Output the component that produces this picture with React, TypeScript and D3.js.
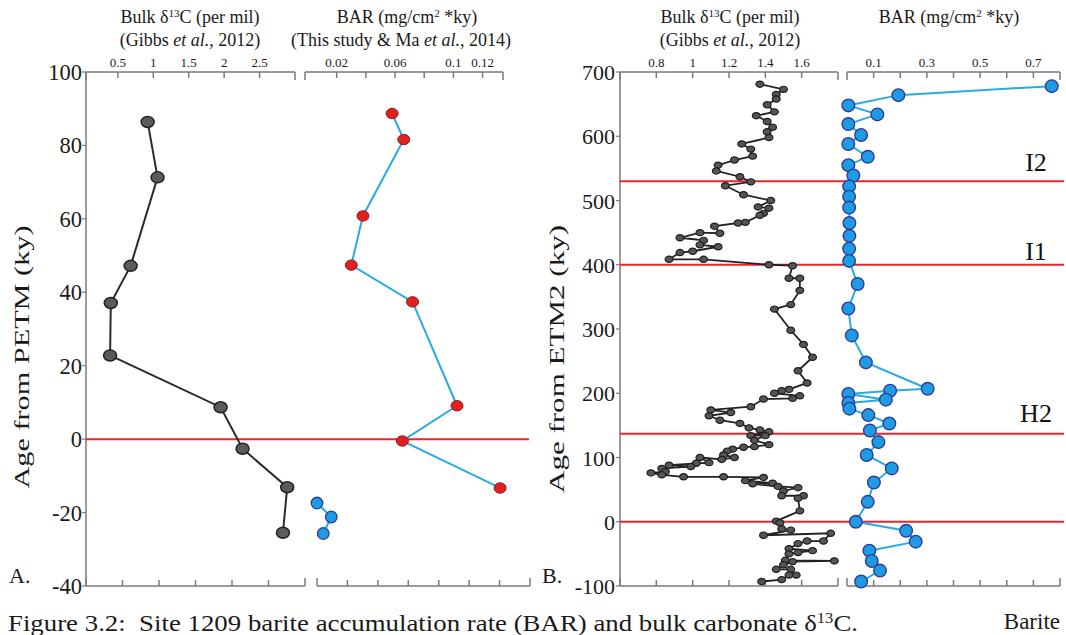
import React from 'react';
import * as d3 from 'd3';

// ---------- Panel A data ----------
const ageA_c13 = [86.4, 71.3, 47.2, 37.1, 22.8, 8.7, -2.6, -13.1, -25.5];
const c13A = [0.92, 1.06, 0.68, 0.40, 0.39, 1.95, 2.26, 2.89, 2.83];
const ageA_barRed = [88.7, 81.6, 60.8, 47.4, 37.4, 9.1, -0.5, -13.3];
const barA_red = [0.058, 0.066, 0.038, 0.030, 0.072, 0.1025, 0.065, 0.132];
const ageA_barBlue = [-17.4, -21.2, -25.7];
const barA_blue = [0.0065, 0.0163, 0.0108];

// ---------- Panel B data ----------
const ageB_c13 = [681, 673, 665, 658, 649, 638, 632, 623, 614, 607, 598, 588, 580, 569, 563, 555, 546, 537, 529, 523,
  509, 500, 490, 488, 480, 477, 466, 465, 460, 449, 450, 442, 438, 431, 428, 421, 419, 408.5, 408.5, 400, 398.5,
  379, 379, 360, 338, 331, 298, 276, 256, 235, 216, 206, 204, 200, 196, 192, 191, 179, 174, 170, 165, 158, 153,
  146, 143, 140, 134, 134, 127, 120, 117, 116, 113, 110, 104, 100, 97, 100, 92, 91, 88, 86, 83, 78, 76, 73, 70,
  70, 69, 64, 60, 59, 55, 53, 48, 40.5, 40.5, 36.5, 17, 1, -1.5, -11, -13, -21, -18, -30, -30, -34, -42, -45, -48,
  -50, -60, -61, -62, -67, -74, -74, -83, -83, -90, -93];
const c13B = [1.37, 1.50, 1.46, 1.46, 1.41, 1.45, 1.35, 1.41, 1.44, 1.41, 1.42, 1.27, 1.32, 1.33, 1.23, 1.14, 1.13, 1.26, 1.32, 1.18,
  1.28, 1.43, 1.36, 1.42, 1.39, 1.37, 1.29, 1.25, 1.12, 1.15, 1.04, 0.93, 1.06, 1.04, 1.14, 1.00, 0.93, 0.87, 1.06, 1.42, 1.55,
  1.53, 1.59, 1.59, 1.54, 1.45, 1.54, 1.61, 1.66, 1.58, 1.63, 1.53, 1.49, 1.45, 1.59, 1.55, 1.39, 1.32, 1.10, 1.21, 1.09, 1.15, 1.26,
  1.31, 1.37, 1.42, 1.32, 1.40, 1.34, 1.42, 1.34, 1.28, 1.22, 1.19, 1.17, 1.23, 1.16, 1.04, 1.09, 1.02, 0.87, 0.99, 0.83, 0.85, 0.77, 0.83, 0.95,
  1.17, 1.39, 1.29, 1.44, 1.33, 1.47, 1.58, 1.50, 1.49, 1.61, 1.58, 1.59, 1.46, 1.48, 1.49, 1.54, 1.39, 1.76, 1.72, 1.63, 1.58, 1.53, 1.66, 1.58,
  1.53, 1.51, 1.78, 1.55, 1.50, 1.46, 1.54, 1.57, 1.53, 1.49, 1.38];

const ageB_bar = [678, 664, 648, 634, 619, 602, 588, 568, 555, 539, 522, 506, 489, 465, 445, 425, 406, 370, 332,
  290, 248, 207, 204, 199, 190, 185, 176, 166, 153, 142, 124, 104, 83, 61, 31, 0, -14, -31, -45, -61, -76, -93];
const barB = [0.769, 0.193, 0.005, 0.114, 0.005, 0.053, 0.005, 0.078, 0.005, 0.024, 0.008, 0.008, 0.008, 0.009, 0.009, 0.008, 0.008, 0.04, 0.005,
  0.018, 0.071, 0.303, 0.162, 0.005, 0.146, 0.005, 0.009, 0.08, 0.159, 0.086, 0.118, 0.074, 0.168, 0.101, 0.078, 0.033, 0.222, 0.258, 0.084, 0.093, 0.124, 0.053];

// tick labels
const yTicksA = [100, 80, 60, 40, 20, 0, -20, -40];
const yTicksB = [700, 600, 500, 400, 300, 200, 100, 0, -100];
const c13TicksA = [0.5, 1, 1.5, 2, 2.5];
const c13TickLabelsA = ['0.5', '1', '1.5', '2', '2.5'];
const barTicksA = [0.02, 0.04, 0.06, 0.08, 0.10, 0.12];
const barLabelsA = [[0.02, '0.02'], [0.06, '0.06'], [0.1, '0.1'], [0.12, '0.12']] as [number, string][];
const c13TicksB = [0.8, 1.0, 1.2, 1.4, 1.6];
const c13LabelsB = ['0.8', '1', '1.2', '1.4', '1.6'];
const barTicksB = [0.1, 0.2, 0.3, 0.4, 0.5, 0.6, 0.7];
const barLabelsB = [[0.1, '0.1'], [0.3, '0.3'], [0.5, '0.5'], [0.7, '0.7']] as [number, string][];
const eventLinesB = [530, 400, 137, 0];
const eventLabelsB = [[560, 'I2'], [422, 'I1'], [170, 'H2']] as [number, string][];

const AX = '#7a7a7a';
const TXT = '#1a1a1a';
const RED = '#e8262d';
const FONT = '"Liberation Serif", "Times New Roman", serif';

function TopAxis({ scale, x0, x1, y, ticks, len = 6 }: any) {
  return (
    <g stroke={AX} strokeWidth={1.5} fill="none">
      <line x1={x0} x2={x1} y1={y} y2={y} />
      <line x1={x0} x2={x0} y1={y} y2={y + len + 2} />
      <line x1={x1} x2={x1} y1={y} y2={y + len + 2} />
      {ticks.map((t: number, i: number) => (
        <line key={i} x1={scale(t)} x2={scale(t)} y1={y} y2={y + len} />
      ))}
    </g>
  );
}
function BottomAxis({ scale, x0, x1, y, ticks, len = 6 }: any) {
  return (
    <g stroke={AX} strokeWidth={1.5} fill="none">
      <line x1={x0} x2={x1} y1={y} y2={y} />
      <line x1={x0} x2={x0} y1={y} y2={y - len - 2} />
      <line x1={x1} x2={x1} y1={y} y2={y - len - 2} />
      {ticks.map((t: number, i: number) => (
        <line key={i} x1={scale(t)} x2={scale(t)} y1={y} y2={y - len} />
      ))}
    </g>
  );
}

export default function App() {
  const top = 72, bot = 586;
  const yA = d3.scaleLinear().domain([-40, 100]).range([bot, top]);
  const yB = d3.scaleLinear().domain([-100, 700]).range([bot, top]);

  const xA1 = d3.scaleLinear().domain([0.05, 3.0]).range([86, 295]);
  const xA1b = d3.scaleLinear().domain([0, 3]).range([86, 305]);
  const xA2 = d3.scaleLinear().domain([0, 0.134]).range([307.5, 503]);
  const xA2b = d3.scaleLinear().domain([0, 0.14]).range([317, 530]);

  const xB1 = d3.scaleLinear().domain([0.6, 1.8]).range([620, 838]);
  const xB2 = d3.scaleLinear().domain([0, 0.8]).range([847, 1060]);

  const lineGen = (xs: any, ys: any, vals: number[], ages: number[]) =>
    d3.line<number>().x((_, i) => xs(vals[i])).y((_, i) => ys(ages[i]))(vals) || '';

  const supStyle = { fontSize: '0.62em' } as any;

  return (
    <svg width={1066} height={635} style={{ position: 'absolute', left: 0, top: 0, background: '#fff' }}
      fontFamily={FONT}>
      <rect width={1066} height={635} fill="#fff" />

      {/* ===== Panel A ===== */}
      <text x={190} y={23} fontSize={18} textAnchor="middle" fill={TXT}>
        Bulk δ<tspan dy={-6} style={supStyle}>13</tspan><tspan dy={6}>C (per mil)</tspan>
      </text>
      <text x={190} y={46} fontSize={18} textAnchor="middle" fill={TXT}>
        (Gibbs <tspan fontStyle="italic">et al.</tspan>, 2012)
      </text>
      <text x={407} y={23} fontSize={18} textAnchor="middle" fill={TXT}>
        BAR (mg/cm<tspan dy={-6} style={supStyle}>2</tspan><tspan dy={6}> *ky)</tspan>
      </text>
      <text x={401} y={46} fontSize={18} textAnchor="middle" fill={TXT}>
        (This study &amp; Ma <tspan fontStyle="italic">et al.</tspan>, 2014)
      </text>

      {c13TicksA.map((t, i) => (
        <text key={i} x={xA1(t)} y={67} fontSize={13} textAnchor="middle" fill={TXT}>{c13TickLabelsA[i]}</text>
      ))}
      {barLabelsA.map(([v, l], i) => (
        <text key={i} x={xA2(v)} y={67} fontSize={13} textAnchor="middle" fill={TXT}>{l}</text>
      ))}

      <TopAxis scale={xA1} x0={86} x1={295} y={top} ticks={c13TicksA} />
      <BottomAxis scale={xA1b} x0={86} x1={305} y={bot} ticks={c13TicksA} />
      <TopAxis scale={xA2} x0={305} x1={503} y={top} ticks={barTicksA} />
      <BottomAxis scale={xA2b} x0={317} x1={530} y={bot} ticks={barTicksA} />

      <line x1={86} x2={86} y1={top} y2={bot} stroke={AX} strokeWidth={1.5} />
      {yTicksA.map((t, i) => (
        <g key={i}>
          <line x1={82} x2={86} y1={yA(t)} y2={yA(t)} stroke={AX} strokeWidth={1.2} />
          <text x={82} y={yA(t) + 8} fontSize={22.5} textAnchor="end" fill={TXT}>{t}</text>
        </g>
      ))}
      <text transform="translate(29,357) rotate(-90)" fontSize={22} textAnchor="middle" fill={TXT}
        textLength={263} lengthAdjust="spacingAndGlyphs">Age from PETM (ky)</text>
      <text x={9} y={583} fontSize={22} fill={TXT}>A.</text>

      <line x1={86} x2={529} y1={yA(0)} y2={yA(0)} stroke={RED} strokeWidth={2} />

      <path d={lineGen(xA1, yA, c13A, ageA_c13)} fill="none" stroke="#2b2b2b" strokeWidth={2} />
      {c13A.map((v, i) => (
        <ellipse key={i} cx={xA1(v)} cy={yA(ageA_c13[i])} rx={6.5} ry={5.5} fill="#5b5b5b" stroke="#222" strokeWidth={1.5} />
      ))}
      <path d={lineGen(xA2, yA, barA_red, ageA_barRed)} fill="none" stroke="#29abe2" strokeWidth={2} />
      {barA_red.map((v, i) => (
        <ellipse key={i} cx={xA2(v)} cy={yA(ageA_barRed[i])} rx={6} ry={5.2} fill="#e1201f" stroke="#8e1b1b" strokeWidth={1} />
      ))}
      <path d={lineGen(xA2, yA, barA_blue, ageA_barBlue)} fill="none" stroke="#29abe2" strokeWidth={2} />
      {barA_blue.map((v, i) => (
        <circle key={i} cx={xA2(v)} cy={yA(ageA_barBlue[i])} r={5.8} fill="#1e9be2" stroke="#2e3d98" strokeWidth={1.3} />
      ))}

      {/* ===== Panel B ===== */}
      <text x={730} y={23} fontSize={18} textAnchor="middle" fill={TXT}>
        Bulk δ<tspan dy={-6} style={supStyle}>13</tspan><tspan dy={6}>C (per mil)</tspan>
      </text>
      <text x={730} y={46} fontSize={18} textAnchor="middle" fill={TXT}>
        (Gibbs <tspan fontStyle="italic">et al.</tspan>, 2012)
      </text>
      <text x={949} y={23} fontSize={18} textAnchor="middle" fill={TXT}>
        BAR (mg/cm<tspan dy={-6} style={supStyle}>2</tspan><tspan dy={6}> *ky)</tspan>
      </text>

      {c13TicksB.map((t, i) => (
        <text key={i} x={xB1(t)} y={67} fontSize={13} textAnchor="middle" fill={TXT}>{c13LabelsB[i]}</text>
      ))}
      {barLabelsB.map(([v, l], i) => (
        <text key={i} x={xB2(v)} y={67} fontSize={13} textAnchor="middle" fill={TXT}>{l}</text>
      ))}

      <TopAxis scale={xB1} x0={620} x1={838} y={top} ticks={c13TicksB} />
      <BottomAxis scale={xB1} x0={620} x1={838} y={bot} ticks={c13TicksB} />
      <TopAxis scale={xB2} x0={847} x1={1060} y={top} ticks={barTicksB} />
      <BottomAxis scale={xB2} x0={847} x1={1060} y={bot} ticks={barTicksB} />

      <line x1={620} x2={620} y1={top} y2={bot} stroke={AX} strokeWidth={1.5} />
      {yTicksB.map((t, i) => (
        <g key={i}>
          <line x1={616} x2={620} y1={yB(t)} y2={yB(t)} stroke={AX} strokeWidth={1.2} />
          <text x={615} y={yB(t) + 8} fontSize={22} textAnchor="end" fill={TXT}>{t}</text>
        </g>
      ))}
      <text transform="translate(564,359) rotate(-90)" fontSize={22} textAnchor="middle" fill={TXT}
        textLength={268} lengthAdjust="spacingAndGlyphs">Age from ETM2 (ky)</text>
      <text x={542} y={583} fontSize={22} fill={TXT}>B.</text>

      {eventLinesB.map((a, i) => (
        <line key={i} x1={620} x2={1064} y1={yB(a)} y2={yB(a)} stroke={RED} strokeWidth={2} />
      ))}
      {eventLabelsB.map(([a, l], i) => (
        <text key={i} x={1036} y={yB(a) + 9} fontSize={26} textAnchor="middle" fill="#111">{l}</text>
      ))}

      <path d={lineGen(xB1, yB, c13B, ageB_c13)} fill="none" stroke="#222" strokeWidth={1.8} />
      {c13B.map((v, i) => (
        <ellipse key={i} cx={xB1(v)} cy={yB(ageB_c13[i])} rx={3.9} ry={3.1} fill="#555" stroke="#1e1e1e" strokeWidth={1.2} />
      ))}
      <path d={lineGen(xB2, yB, barB, ageB_bar)} fill="none" stroke="#29abe2" strokeWidth={2} />
      {barB.map((v, i) => (
        <circle key={i} cx={xB2(v)} cy={yB(ageB_bar[i])} r={6.3} fill="#1e9be2" stroke="#2e3d98" strokeWidth={1.4} />
      ))}

      {/* caption */}
      <text x={8} y={631} fontSize={23} fill={TXT} style={{ whiteSpace: 'pre' }}
        textLength={850} lengthAdjust="spacingAndGlyphs">
        {'Figure 3.2:  Site 1209 barite accumulation rate (BAR) and bulk carbonate δ'}<tspan dy={-8} style={supStyle}>13</tspan><tspan dy={8}>C.</tspan>
      </text>
      <text x={1060} y={629} fontSize={23} textAnchor="end" fill={TXT}>Barite</text>
    </svg>
  );
}
